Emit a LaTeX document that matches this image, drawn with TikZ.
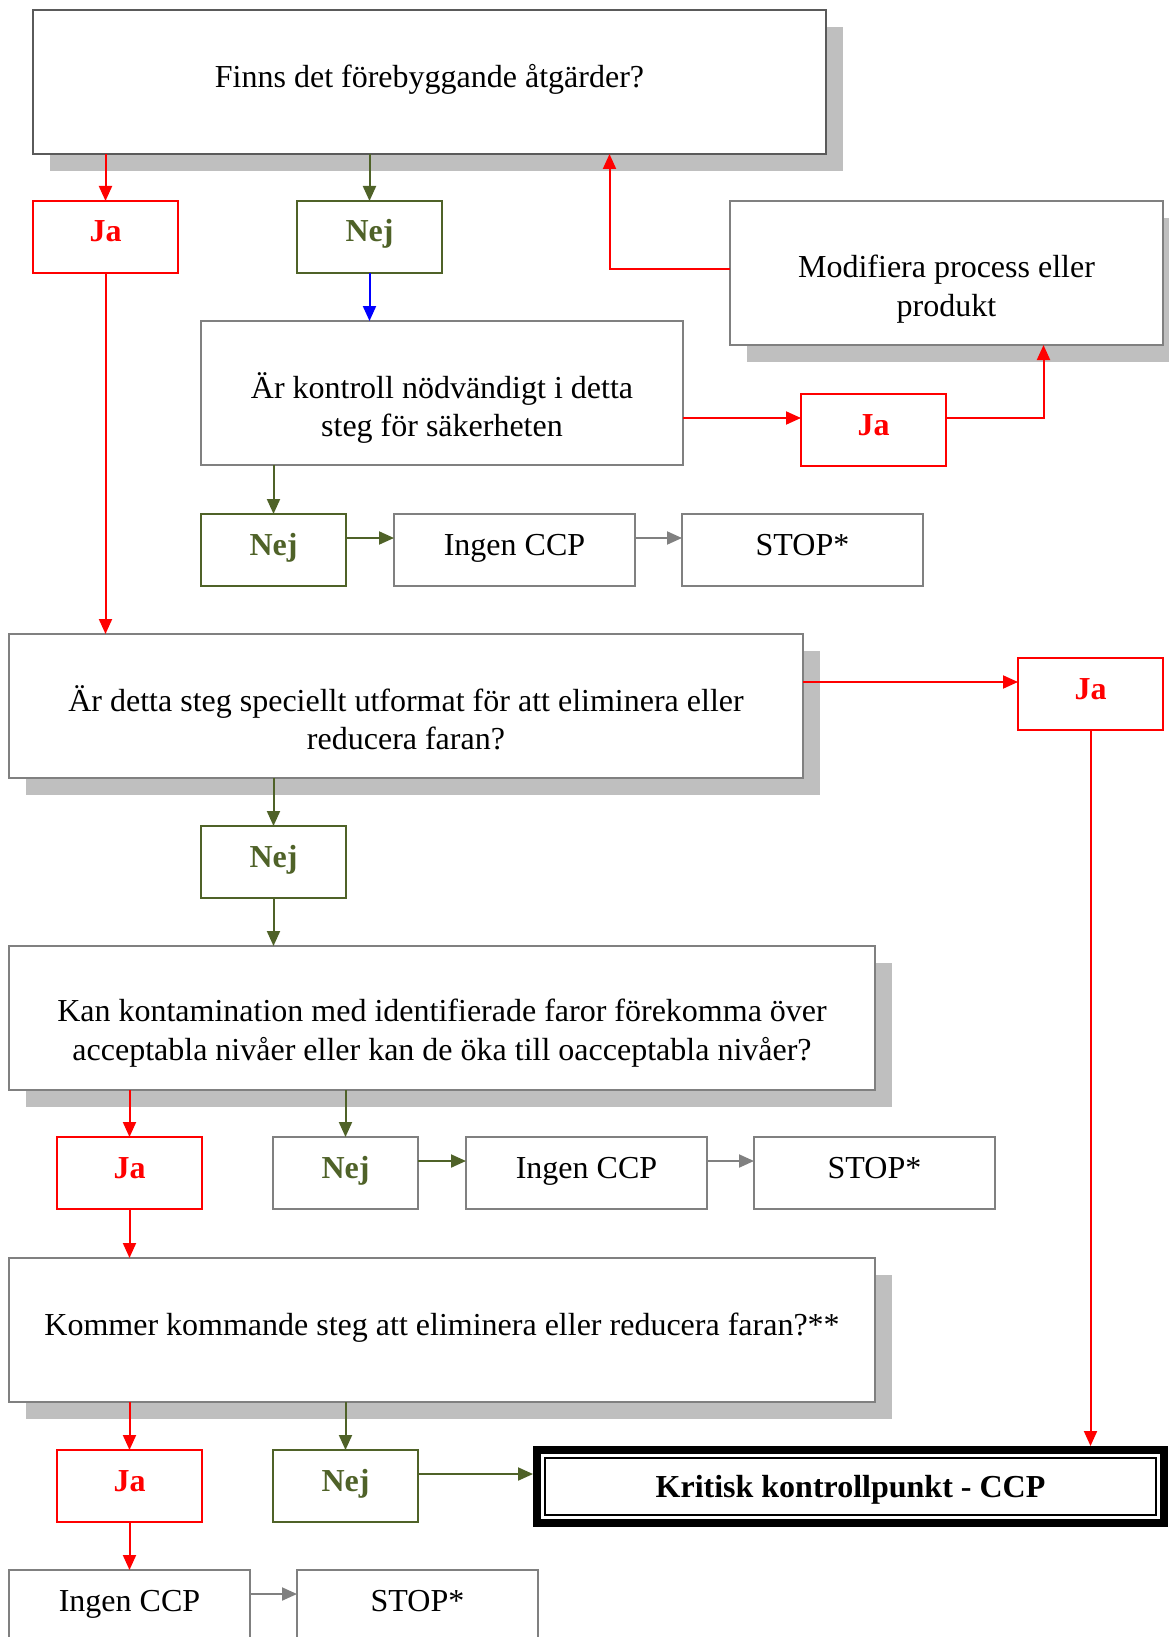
\documentclass[tikz,border=0pt]{standalone}
\usepackage{fontspec}
\setmainfont{Liberation Serif}
\usetikzlibrary{arrows.meta,shadows,calc}
\definecolor{myred}{RGB}{255,0,0}
\definecolor{mygreen}{RGB}{79,98,40}
\definecolor{myblue}{RGB}{0,0,255}
\definecolor{boxgray}{RGB}{128,128,128}
\definecolor{topgray}{RGB}{90,90,90}
\definecolor{shadowgray}{RGB}{191,191,191}
\begin{document}
\begin{tikzpicture}[x=1pt,y=-1pt,
  box/.style={draw=boxgray, line width=2pt, rectangle, inner sep=0pt, outer sep=0pt, anchor=north west, fill=white},
  shad/.style={general shadow={fill=shadowgray, shadow xshift=17pt, shadow yshift=-17pt}},
  small/.style={box, minimum width=145pt, minimum height=72pt},
  wide/.style={box, minimum width=241pt, minimum height=72pt},
  redbox/.style={small, draw=myred},
  grnbox/.style={small, draw=mygreen},
  txt/.style={font=\fontsize{32}{38.5}\selectfont, align=center, inner sep=0pt},
  ltxt/.style={font=\fontsize{32}{38.5}\selectfont, inner sep=0pt, anchor=base},
  jatxt/.style={ltxt, font=\fontsize{32}{38.5}\selectfont\bfseries, text=myred},
  nejtxt/.style={ltxt, font=\fontsize{32}{38.5}\selectfont\bfseries, text=mygreen},
  arr/.style={line width=2pt, -{Triangle[length=15pt,width=13pt]}},
  ra/.style={arr, color=myred},
  ga/.style={arr, color=mygreen},
  ya/.style={arr, color=boxgray},
  ba/.style={arr, color=myblue},
]
\useasboundingbox (0,0) rectangle (1168,1637);

% boxes
\node[box, shad, draw=topgray, minimum width=793pt, minimum height=144pt] (top) at (33,10) {};
\node[redbox] (Ja1) at (33,201) {};
\node[grnbox] (Nej1) at (297,201) {};
\node[box, shad, minimum width=433pt, minimum height=144pt] (Mod) at (730,201) {};
\node[box, minimum width=482pt, minimum height=144pt] (Kon) at (201,321) {};
\node[redbox] (Ja2) at (801,394) {};
\node[grnbox] (Nej2) at (201,514) {};
\node[wide] (Ing1) at (394,514) {};
\node[wide] (Stop1) at (682,514) {};
\node[box, shad, minimum width=794pt, minimum height=144pt] (Det) at (9,634) {};
\node[redbox] (Ja3) at (1018,658) {};
\node[grnbox] (Nej3) at (201,826) {};
\node[box, shad, minimum width=866pt, minimum height=144pt] (Kan) at (9,946) {};
\node[redbox] (Ja4) at (57,1137) {};
\node[small] (Nej4) at (273,1137) {};
\node[wide] (Ing2) at (466,1137) {};
\node[wide] (Stop2) at (754,1137) {};
\node[box, shad, minimum width=866pt, minimum height=144pt] (Kom) at (9,1258) {};
\node[redbox] (Ja5) at (57,1450) {};
\node[grnbox] (Nej5) at (273,1450) {};
\node[draw=black, line width=8pt, rectangle, inner sep=0pt, anchor=north west, fill=white,
      minimum width=627pt, minimum height=73pt] (CCP) at (533,1446) {};
\draw[line width=2pt] ([shift={(12pt,-12pt)}]CCP.north west) rectangle ([shift={(-12pt,12pt)}]CCP.south east);
\node[wide] (Ing3) at (9,1570) {};
\node[wide] (Stop3) at (297,1570) {};

% texts
\node[ltxt] (tTop) at ([yshift=-6pt]top.center) {Finns det förebyggande åtgärder?};
\node[txt] (tMod) at ([yshift=-16pt]Mod.center) {Modifiera process eller\\produkt};
\node[txt] (tKon) at ([yshift=-15pt]Kon.center) {Är kontroll nödvändigt i detta\\steg för säkerheten};
\node[txt] (tDet) at ([yshift=-12pt]Det.center) {Är detta steg speciellt utformat för att eliminera eller\\reducera faran?};
\node[txt] (tKan) at ([yshift=-15pt]Kan.center) {Kan kontamination med identifierade faror förekomma över\\acceptabla nivåer eller kan de öka till oacceptabla nivåer?};
\node[ltxt] (tKom) at ([yshift=-5pt]Kom.center) {Kommer kommande steg att eliminera eller reducera faran?**};
\node[jatxt] (tJa1) at ([yshift=-5pt]Ja1.center) {Ja};
\node[jatxt] (tJa2) at ([yshift=-5pt]Ja2.center) {Ja};
\node[jatxt] (tJa3) at ([yshift=-5pt]Ja3.center) {Ja};
\node[jatxt] (tJa4) at ([yshift=-5pt]Ja4.center) {Ja};
\node[jatxt] (tJa5) at ([yshift=-5pt]Ja5.center) {Ja};
\node[nejtxt] (tNej1) at ([yshift=-5pt]Nej1.center) {Nej};
\node[nejtxt] (tNej2) at ([yshift=-5pt]Nej2.center) {Nej};
\node[nejtxt] (tNej3) at ([yshift=-5pt]Nej3.center) {Nej};
\node[nejtxt] (tNej4) at ([yshift=-5pt]Nej4.center) {Nej};
\node[nejtxt] (tNej5) at ([yshift=-5pt]Nej5.center) {Nej};
\node[ltxt] (tIng1) at ([yshift=-5pt]Ing1.center) {Ingen CCP};
\node[ltxt] (tIng2) at ([yshift=-5pt]Ing2.center) {Ingen CCP};
\node[ltxt] (tIng3) at ([yshift=-5pt]Ing3.center) {Ingen CCP};
\node[ltxt] (tStop1) at ([yshift=-5pt]Stop1.center) {STOP*};
\node[ltxt] (tStop2) at ([yshift=-5pt]Stop2.center) {STOP*};
\node[ltxt] (tStop3) at ([yshift=-5pt]Stop3.center) {STOP*};
\node[ltxt, font=\fontsize{32}{38.5}\selectfont\bfseries] (tCCP) at ([yshift=-11pt]CCP.center) {Kritisk kontrollpunkt - CCP};

% helper coordinates for side connectors
\coordinate (ja2w) at ([yshift=12pt]Ja2.west);
\coordinate (ja3w) at ([yshift=12pt]Ja3.west);
\coordinate (nej5e) at ([yshift=12pt]Nej5.east);

% connectors
\draw[ra] (top.south -| Ja1.north) -- (Ja1.north);
\draw[ga] (top.south -| Nej1.north) -- (Nej1.north);
\draw[ba] (Nej1.south) -- (Nej1.south |- Kon.north);
\draw[ra] ([yshift=4pt]Mod.west) -| ([xshift=180pt]top.south);
\draw[ra] (Kon.east |- ja2w) -- (ja2w);
\draw[ra] ([yshift=12pt]Ja2.east) -| ([xshift=97pt]Mod.south);
\draw[ga] (Kon.south -| Nej2.north) -- (Nej2.north);
\draw[ga] ([yshift=12pt]Nej2.east) -- ([yshift=12pt]Ing1.west);
\draw[ya] ([yshift=12pt]Ing1.east) -- ([yshift=12pt]Stop1.west);
\draw[ra] (Ja1.south) -- (Ja1.south |- Det.north);
\draw[ra] (Det.east |- ja3w) -- (ja3w);
\draw[ra] (Ja3.south) -- (Ja3.south |- CCP.north);
\draw[ga] (Det.south -| Nej3.north) -- (Nej3.north);
\draw[ga] (Nej3.south) -- (Nej3.south |- Kan.north);
\draw[ra] (Kan.south -| Ja4.north) -- (Ja4.north);
\draw[ga] (Kan.south -| Nej4.north) -- (Nej4.north);
\draw[ga] ([yshift=12pt]Nej4.east) -- ([yshift=12pt]Ing2.west);
\draw[ya] ([yshift=12pt]Ing2.east) -- ([yshift=12pt]Stop2.west);
\draw[ra] (Ja4.south) -- (Ja4.south |- Kom.north);
\draw[ra] (Kom.south -| Ja5.north) -- (Ja5.north);
\draw[ga] (Kom.south -| Nej5.north) -- (Nej5.north);
\draw[ga] (nej5e) -- (CCP.west |- nej5e);
\draw[ra] (Ja5.south) -- (Ja5.south |- Ing3.north);
\draw[ya] ([yshift=12pt]Ing3.east) -- ([yshift=12pt]Stop3.west);
\end{tikzpicture}
\end{document}
